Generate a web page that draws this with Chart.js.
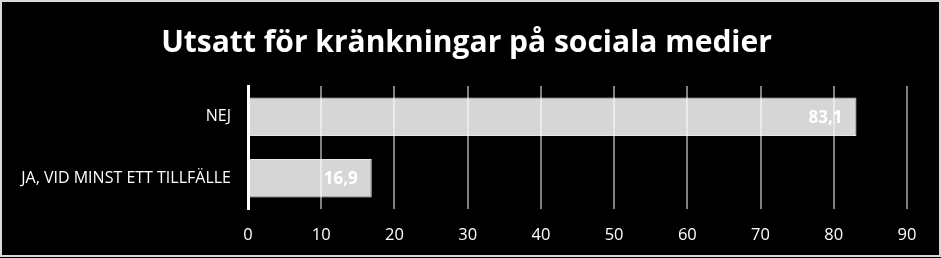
<!DOCTYPE html>
<html>
<head>
<meta charset="utf-8">
<script src="https://cdn.jsdelivr.net/npm/chart.js@4"></script>
<style>
  html, body { margin: 0; padding: 0; background: #000; }
  #wrap { width: 941px; height: 258px; }
</style>
</head>
<body>
<div id="wrap"><canvas id="chartKrank"></canvas></div>
<script>
const categories = ["NEJ", "JA, VID MINST ETT TILLFÄLLE"];
const values = [83.1, 16.9];
const xTicks = [0, 10, 20, 30, 40, 50, 60, 70, 80, 90];
const chartTitle = "Utsatt för kränkningar på sociala medier";

// black background + thin light frame like the exported picture
const frame = {
  id: "frame",
  beforeDraw(chart) {
    const c = chart.ctx;
    c.save();
    c.fillStyle = "#000";
    c.fillRect(0, 0, chart.width, chart.height);
    c.restore();
  },
  afterDraw(chart) {
    const c = chart.ctx;
    c.save();
    c.strokeStyle = "#d9d9d9";
    c.lineWidth = 2;
    c.strokeRect(1, 1, chart.width - 2, chart.height - 3);
    c.restore();
  },
};

// title in the original sits a little right of the canvas centre
const titleShift = {
  id: "titleShift",
  afterLayout(chart) {
    if (chart.titleBlock) {
      chart.titleBlock.left = 26;
    }
  },
};

// value labels inside the end of each bar
const barLabels = {
  id: "barLabels",
  afterDatasetsDraw(chart) {
    const c = chart.ctx;
    const meta = chart.getDatasetMeta(0);
    c.save();
    c.font = "bold 17px 'Open Sans', sans-serif";
    c.fillStyle = "#fff";
    c.textAlign = "right";
    c.textBaseline = "middle";
    meta.data.forEach((bar, i) => {
      const txt = values[i].toFixed(1).replace(".", ",");
      c.fillText(txt, bar.x - 14, bar.y + 1);
    });
    c.restore();
  },
};

var ctx = document.getElementById("chartKrank").getContext("2d");
new Chart(ctx, {
  type: "bar",
  data: {
    labels: categories,
    datasets: [
      {
        data: values,
        backgroundColor: "rgba(255,255,255,0.84)",
        borderColor: "rgba(255,255,255,0.9)",
        borderWidth: 1,
        borderSkipped: "start",
        barPercentage: 0.63,
        categoryPercentage: 1.0,
      },
    ],
  },
  options: {
    indexAxis: "y",
    responsive: true,
    maintainAspectRatio: false,
    animation: false,
    layout: { padding: { left: 0, right: 34, top: 0, bottom: 0 } },
    plugins: {
      legend: { display: false },
      tooltip: { enabled: false },
      title: {
        display: true,
        text: chartTitle,
        color: "#fff",
        font: { family: "'Open Sans', sans-serif", size: 30, weight: "bold", lineHeight: 1.2 },
        padding: { top: 25, bottom: 25 },
      },
    },
    scales: {
      x: {
        min: 0,
        max: 90,
        afterBuildTicks(scale) {
          scale.ticks = xTicks.map((v) => ({ value: v }));
        },
        ticks: {
          color: "#fff",
          font: { family: "'Open Sans', sans-serif", size: 16.5 },
          padding: 16,
        },
        grid: { color: "#7f7f7f", lineWidth: 2, drawTicks: false },
        border: { display: false },
        afterFit(scale) {
          scale.height = 49;
        },
      },
      y: {
        ticks: {
          color: "#fff",
          font: { family: "'Open Sans', sans-serif", size: 16 },
          padding: 17,
        },
        grid: { display: false, drawTicks: false },
        border: { display: true, color: "#fff", width: 3 },
        afterFit(scale) {
          scale.width = 248;
        },
      },
    },
  },
  plugins: [frame, titleShift, barLabels],
});
</script>
</body>
</html>
